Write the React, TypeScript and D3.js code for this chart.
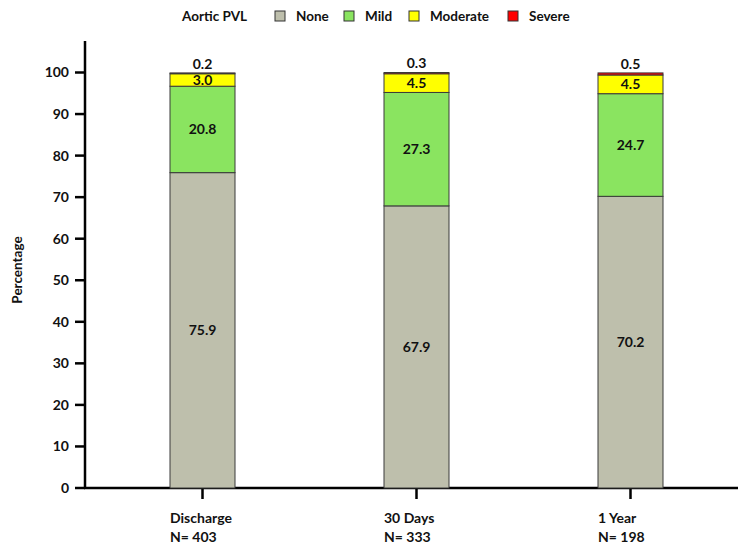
import React from "react";
import * as d3 from "d3";

const categories = ["Discharge", "30 Days", "1 Year"];
const sampleSizes = ["N= 403", "N= 333", "N= 198"];
const seriesNames = ["None", "Mild", "Moderate", "Severe"];
const noneValues = [75.9, 67.9, 70.2];
const mildValues = [20.8, 27.3, 24.7];
const moderateValues = [3.0, 4.5, 4.5];
const severeValues = [0.2, 0.3, 0.5];
const yTicks = [0, 10, 20, 30, 40, 50, 60, 70, 80, 90, 100];
const colors = ["#BEBFAC", "#8AE460", "#FFFF00", "#FF0000"];

const W = 738;
const H = 546;
const FONT = "Lato, 'Open Sans', sans-serif";

export default function App() {
  const series = [noneValues, mildValues, moderateValues, severeValues];
  const y = d3.scaleLinear().domain([0, 100]).range([488, 72.5]);
  const x = d3.scaleBand<string>().domain(categories).range([95.5, 737.5]).paddingInner(0.696).paddingOuter(0.348);
  const bw = 65;

  const stacked = categories.map((c, i) => {
    let acc = 0;
    return series.map((s, k) => {
      const y0 = acc;
      acc += s[i];
      return { k, y0, y1: acc, v: s[i] };
    });
  });

  const legendItems = [
    { name: seriesNames[0], bx: 275, tx: 296 },
    { name: seriesNames[1], bx: 344, tx: 365 },
    { name: seriesNames[2], bx: 409, tx: 430 },
    { name: seriesNames[3], bx: 508, tx: 529 },
  ];

  return (
    <svg width={W} height={H} style={{ position: "absolute", left: 0, top: 0, background: "#fff" }} fontFamily={FONT}>
      {/* legend */}
      <text x={182} y={21} fontSize={13.5} fontWeight="bold" fill="#111">Aortic PVL</text>
      {legendItems.map((l, i) => (
        <g key={l.name}>
          <rect x={l.bx} y={11} width={10} height={10} fill={colors[i]} stroke="#333" strokeWidth={1} />
          <text x={l.tx} y={21} fontSize={13.5} fontWeight="bold" fill="#111">{l.name}</text>
        </g>
      ))}

      {/* y axis */}
      <line x1={85} x2={85} y1={41} y2={489} stroke="#000" strokeWidth={2.5} />
      {yTicks.map((t) => (
        <g key={t}>
          <line x1={75} x2={85} y1={y(t)} y2={y(t)} stroke="#000" strokeWidth={2.5} />
          <text x={69} y={y(t)} dy="0.35em" textAnchor="end" fontSize={14} fontWeight="bold" fill="#111">{t}</text>
        </g>
      ))}
      <text transform={`translate(22,${270}) rotate(-90)`} textAnchor="middle" fontSize={13.5} fontWeight="bold" fill="#111">Percentage</text>

      {/* x axis */}
      <line x1={84} x2={738} y1={488} y2={488} stroke="#000" strokeWidth={2.5} />
      {categories.map((c, i) => {
        const cx = (x(c) as number) + x.bandwidth() / 2;
        const left = cx - bw / 2;
        return (
          <g key={c}>
            <line x1={cx} x2={cx} y1={488} y2={499} stroke="#000" strokeWidth={2.5} />
            <text x={left} y={523} fontSize={14} fontWeight="bold" fill="#111">{c}</text>
            <text x={left} y={542} fontSize={14} fontWeight="bold" fill="#111">{sampleSizes[i]}</text>
          </g>
        );
      })}

      {/* bars */}
      {categories.map((c, i) => {
        const cx = (x(c) as number) + x.bandwidth() / 2;
        const left = cx - bw / 2;
        return (
          <g key={c}>
            {stacked[i].map((s) => (
              <rect key={s.k} x={left} y={y(s.y1)} width={bw} height={y(s.y0) - y(s.y1)} fill={colors[s.k]} stroke="#3a3a3a" strokeWidth={1} />
            ))}
            {stacked[i].map((s) => {
              const ty = s.k === 3 ? y(s.y1) - 9 : y((s.y0 + s.y1) / 2);
              return (
                <text key={"t" + s.k} x={cx} y={ty} dy="0.35em" textAnchor="middle" fontSize={14} fontWeight="bold" fill="#111">
                  {s.v.toFixed(1)}
                </text>
              );
            })}
          </g>
        );
      })}
    </svg>
  );
}
